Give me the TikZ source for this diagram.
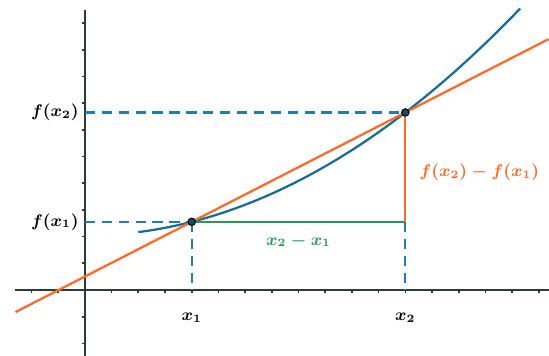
\documentclass[tikz,border=0pt]{standalone}
\usetikzlibrary{calc}
\definecolor{curveblue}{RGB}{22,110,150}
\definecolor{dashblue}{RGB}{35,125,170}
\definecolor{secorange}{RGB}{255,105,35}
\definecolor{diffgreen}{RGB}{35,155,85}
\definecolor{axisgray}{RGB}{45,60,50}
\begin{document}
\begin{tikzpicture}[x=0.5cm, y=0.5cm,
    axis/.style={axisgray, line width=1.1pt},
    tick/.style={axisgray, line width=0.9pt},
    guide/.style={dashblue, dash pattern=on 5.5pt off 3.5pt, line width=1.2pt},
    label/.style={font=\small\boldmath, inner sep=1pt},
    dot/.style={circle, draw=black, fill=curveblue!70!black, inner sep=0pt, minimum size=4pt, line width=0.5pt}
]
    \useasboundingbox (-3.18,-2.47) rectangle (17.38,10.86);

    % Achsen
    \draw[axis] (-2.6,0) -- (17.38,0);
    \draw[axis] (0,-2.47) -- (0,10.5);
    \foreach \i in {-2,-1,1,2,...,17}
        \draw[tick] (\i,0) -- (\i,-0.12);
    \foreach \j in {-2,-1,1,2,...,10}
        \draw[tick] (0,\j) -- (-0.12,\j);

    % Punkte
    \coordinate (p1) at (4,2.552);
    \coordinate (p2) at (12,6.648);
    \coordinate (q) at (12,2.552);
    \coordinate (a1) at (4,0);
    \coordinate (a2) at (12,0);
    \coordinate (b1) at (0,2.552);
    \coordinate (b2) at (0,6.648);

    % Hilfslinien
    \draw[guide] (b1) -- (p1);
    \draw[guide] (b2) -- (p2);
    \draw[guide] (p1) -- (a1);
    \draw[guide] (q) -- (a2);

    % Kurve und Sekante
    \draw[curveblue, line width=1.2pt] plot[domain=2:16.3, samples=60, smooth] (\x,{0.032*\x*\x+2.04});
    \draw[secorange, line width=1.2pt] ($(p1)!-0.825!(p2)$) -- ($(p1)!1.67!(p2)$);

    % Differenzen
    \draw[diffgreen, line width=1.2pt] (p1) -- node[label, below=5pt] {$x_2-x_1$} (q);
    \draw[secorange, line width=1.2pt] (p2) -- node[label, right=6pt, pos=0.55] {$f(x_2)-f(x_1)$} (q);

    \node[dot] (d1) at (p1) {};
    \node[dot] (d2) at (p2) {};

    % Beschriftungen
    \node[label, anchor=east] (fx1) at (-0.15,2.552) {$f(x_1)$};
    \node[label, anchor=east] (fx2) at (-0.15,6.648) {$f(x_2)$};
    \node[label] (x1) at (4,-1.05) {$x_1$};
    \node[label] (x2) at (12,-1.05) {$x_2$};
\end{tikzpicture}
\end{document}
